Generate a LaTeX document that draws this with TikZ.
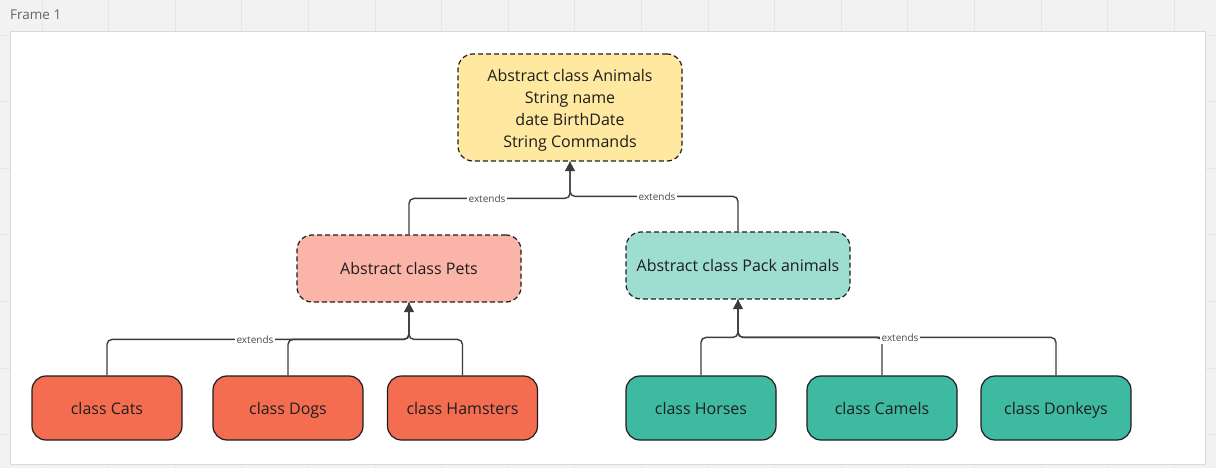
\documentclass[tikz,border=0pt]{standalone}
\usepackage{fontspec}
\setmainfont{Open Sans}
\usetikzlibrary{arrows.meta,calc}
\definecolor{bggray}{HTML}{F2F2F2}
\definecolor{gridgray}{HTML}{E6E6E6}
\definecolor{framegray}{HTML}{DADADA}
\definecolor{yellowbox}{HTML}{FFE89F}
\definecolor{petsbox}{HTML}{FAB4A8}
\definecolor{packbox}{HTML}{9DDED0}
\definecolor{redbox}{HTML}{F46D51}
\definecolor{greenbox}{HTML}{3DBAA0}
\definecolor{linegray}{HTML}{3C3C3C}
\definecolor{txtdark}{HTML}{1E1E1E}
\definecolor{lblgray}{HTML}{4A4A4A}
\tikzset{
  absbox/.style={draw=txtdark, line width=1.2pt, dash pattern=on 5pt off 3pt, rounded corners=15pt,
    minimum width=224pt, align=center, text=txtdark, font=\fontsize{16}{22}\selectfont, inner sep=0pt},
  onetext/.style={text height=12.5pt, text depth=0pt},
  leafbox/.style={draw=txtdark, line width=1.2pt, rounded corners=14pt, minimum width=150pt,
    minimum height=64pt, align=center, text=txtdark, font=\fontsize{16}{22}\selectfont, inner sep=0pt,
    onetext},
  conn/.style={draw=linegray, line width=1.4pt, rounded corners=5pt},
  tip/.style={-{Triangle[length=9.5pt,width=10pt]}},
  lbl/.style={fill=white, text=lblgray, font=\fontsize{10}{12}\selectfont, inner sep=2pt}
}
\begin{document}
\begin{tikzpicture}[x=1pt,y=-1pt]
\useasboundingbox (0,0) rectangle (1216,468);
\fill[bggray] (0,0) rectangle (1216,468);
\foreach \i in {0,...,18} {
  \draw[gridgray, line width=0.8pt] ({42+66.6*\i},0) -- ({42+66.6*\i},468);
}
\foreach \j in {0,...,6} {
  \draw[gridgray, line width=0.8pt] (0,{35+66.6*\j}) -- (1216,{35+66.6*\j});
}
\node[anchor=west, text=lblgray!85, font=\fontsize{13.5}{16}\selectfont, inner sep=0pt] (title) at (10,15) {Frame 1};
\filldraw[fill=white, draw=framegray, line width=0.8pt] (10,31) rectangle (1205,464);

\node[absbox, fill=yellowbox, minimum height=107pt] (animals) at (570,107.5) {};
\node[align=center, text=txtdark, font=\fontsize{16}{22}\selectfont, inner sep=0pt] (animalstxt) at (570,110.5)
  {Abstract class Animals\\String name\\date BirthDate\\String Commands};
\node[absbox, fill=petsbox, minimum height=67pt, onetext] (pets) at (409,268.5) {Abstract class Pets};
\node[absbox, fill=packbox, minimum height=67pt, onetext] (pack) at (738,265.5) {Abstract class Pack animals};

\node[leafbox, fill=redbox] (cats) at (107,408) {class Cats};
\node[leafbox, fill=redbox] (dogs) at (288,408) {class Dogs};
\node[leafbox, fill=redbox] (hamsters) at (462.5,408) {class Hamsters};
\node[leafbox, fill=greenbox] (horses) at (701,408) {class Horses};
\node[leafbox, fill=greenbox] (camels) at (882,408) {class Camels};
\node[leafbox, fill=greenbox] (donkeys) at (1056,408) {class Donkeys};

\draw[conn] (pack.north) -- ++(0,-35) -| (animals.south);
\draw[conn,tip] (pets.north) -- ++(0,-36) -| (animals.south);

\draw[conn] (dogs.north) -- ++(0,-36) -| (pets.south);
\draw[conn] (hamsters.north) -- ++(0,-36) -| (pets.south);
\draw[conn,tip] (cats.north) -- ++(0,-36) -| (pets.south);

\draw[conn] (camels.north) -- ++(0,-38) -| (pack.south);
\draw[conn] (donkeys.north) -- ++(0,-38) -| (pack.south);
\draw[conn,tip] (horses.north) -- ++(0,-38) -| (pack.south);

\node[lbl] (l1) at (487,199) {extends};
\node[lbl] (l2) at (657,197) {extends};
\node[lbl] (l3) at (255,340) {extends};
\node[lbl] (l4) at (900,338) {extends};
\end{tikzpicture}
\end{document}
